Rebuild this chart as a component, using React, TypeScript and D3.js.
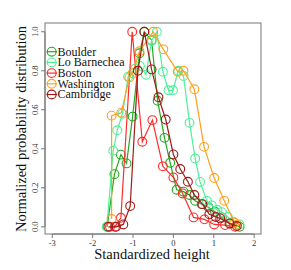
import * as d3 from "d3";

// standardized height (x) and normalized probability (y) per city
const boulderX = [-1.64, -1.46, -1.3, -1.16, -1.01, -0.84, -0.72, -0.54, -0.39, -0.22, -0.08, 0.08, 0.25, 0.4, 0.54, 0.7, 0.87, 1.03, 1.2, 1.41, 1.64];
const boulderY = [0.0, 0.27, 0.37, 0.325, 0.565, 0.89, 1.0, 0.957, 0.646, 0.456, 0.328, 0.19, 0.18, 0.163, 0.133, 0.116, 0.1, 0.077, 0.048, 0.017, 0.0];

const barnecheaX = [-1.65, -1.49, -1.39, -1.26, -1.12, -0.95, -0.83, -0.68, -0.54, -0.41, -0.26, -0.12, -0.01, 0.12, 0.25, 0.4, 0.54, 0.66, 0.83, 0.95, 1.09, 1.2, 1.35, 1.48, 1.64];
const barnecheaY = [0.0, 0.39, 0.495, 0.58, 0.77, 0.81, 0.825, 0.78, 0.954, 1.0, 0.795, 0.7, 0.7, 0.8, 0.773, 0.533, 0.35, 0.23, 0.133, 0.11, 0.086, 0.075, 0.05, 0.026, 0.012];

const bostonX = [-1.57, -1.45, -1.3, -1.02, -0.77, -0.52, -0.26, 0.0, 0.23, 0.5, 0.77, 1.01, 1.28, 1.53];
const bostonY = [0.0, 0.0, 0.046, 1.0, 0.436, 0.547, 0.31, 0.253, 0.171, 0.048, 0.038, 0.012, 0.009, 0.0];

const washingtonX = [-1.53, -1.53, -1.29, -1.09, -1.01, -0.84, -0.5, -0.25, 0.11, 0.25, 0.52, 0.76, 1.01, 1.26, 1.51, 1.58];
const washingtonY = [0.04, 0.57, 0.585, 0.766, 0.787, 0.9, 1.0, 0.91, 0.795, 0.8, 0.705, 0.41, 0.25, 0.133, 0.022, 0.01];

const cambridgeX = [-1.61, -1.42, -1.24, -1.07, -0.88, -0.72, -0.54, -0.37, -0.19, 0.0, 0.17, 0.36, 0.52, 0.72, 0.89, 1.05, 1.16, 1.39, 1.57];
const cambridgeY = [0.0, 0.0, 0.012, 0.106, 0.8, 1.0, 0.807, 0.664, 0.55, 0.371, 0.296, 0.231, 0.163, 0.116, 0.064, 0.05, 0.043, 0.017, 0.004];

const cities = ["Boulder", "Lo Barnechea", "Boston", "Washington", "Cambridge"];
const colors = ["#22a822", "#4ef09a", "#ff2a2a", "#ffa020", "#a01818"];
const seriesX = [boulderX, barnecheaX, bostonX, washingtonX, cambridgeX];
const seriesY = [boulderY, barnecheaY, bostonY, washingtonY, cambridgeY];

const xTicks = [-3, -2, -1, 0, 1, 2];
const yTicks = [0, 0.2, 0.4, 0.6, 0.8, 1.0];

export default function App() {
  const width = 291;
  const height = 270;
  const left = 45, right = 261, top = 23, bottom = 234;

  const x = d3.scaleLinear().domain([-3.18, 2.17]).range([left, right]);
  const y = d3.scaleLinear().domain([-0.037, 1.045]).range([bottom, top]);
  const line = d3
    .line<[number, number]>()
    .x((d) => x(d[0]))
    .y((d) => y(d[1]));

  const serif = { fontFamily: "Liberation Serif, DejaVu Serif, serif" };
  const axisColor = "#777";

  return (
    <svg
      width={width}
      height={height}
      style={{ position: "absolute", left: 0, top: 0, background: "#fff" }}
    >
      <rect x={left} y={top} width={right - left} height={bottom - top} fill="none" stroke={axisColor} strokeWidth={1} />

      {/* x axis */}
      <line x1={x(-3)} x2={x(2)} y1={bottom} y2={bottom} stroke={axisColor} />
      {xTicks.map((t) => (
        <g key={t}>
          <line x1={x(t)} x2={x(t)} y1={bottom} y2={bottom + 4} stroke={axisColor} />
          <text x={x(t)} y={bottom + 12} fontSize={8.5} textAnchor="middle" fill="#333" style={serif}>
            {t}
          </text>
        </g>
      ))}

      {/* y axis */}
      <line x1={left} x2={left} y1={y(0)} y2={y(1)} stroke={axisColor} />
      {yTicks.map((t) => (
        <g key={t}>
          <line x1={left - 4} x2={left} y1={y(t)} y2={y(t)} stroke={axisColor} />
          <text
            transform={`translate(${left - 7.5},${y(t)}) rotate(-90)`}
            fontSize={8.5}
            textAnchor="middle"
            fill="#333"
            style={serif}
          >
            {t.toFixed(1)}
          </text>
        </g>
      ))}

      <text x={(left + right) / 2 - 1} y={259} fontSize={14.5} textAnchor="middle" fill="#111" style={serif}>
        Standardized height
      </text>
      <text
        transform={`translate(26,129) rotate(-90)`}
        fontSize={14.5}
        textAnchor="middle"
        fill="#111"
        style={serif}
      >
        Normalized probability distribution
      </text>

      {/* series */}
      {cities.map((c, i) => {
        const pts = seriesX[i].map((v, j) => [v, seriesY[i][j]] as [number, number]);
        return (
          <g key={c}>
            <path d={line(pts) || ""} fill="none" stroke={colors[i]} strokeWidth={1.2} />
            {pts.map((p, j) => (
              <circle key={j} cx={x(p[0])} cy={y(p[1])} r={4.4} fill="none" stroke={colors[i]} strokeWidth={1.1} />
            ))}
          </g>
        );
      })}

      {/* legend */}
      {cities.map((c, i) => {
        const ly = 51.7 + i * 10.7;
        return (
          <g key={c}>
            <line x1={46.5} x2={57} y1={ly} y2={ly} stroke={colors[i]} strokeWidth={1.2} />
            <circle cx={51.7} cy={ly} r={4.4} fill="none" stroke={colors[i]} strokeWidth={1.1} />
            <text x={57.5} y={ly + 3.8} fontSize={12} fill="#111" style={serif}>
              {c}
            </text>
          </g>
        );
      })}
    </svg>
  );
}
